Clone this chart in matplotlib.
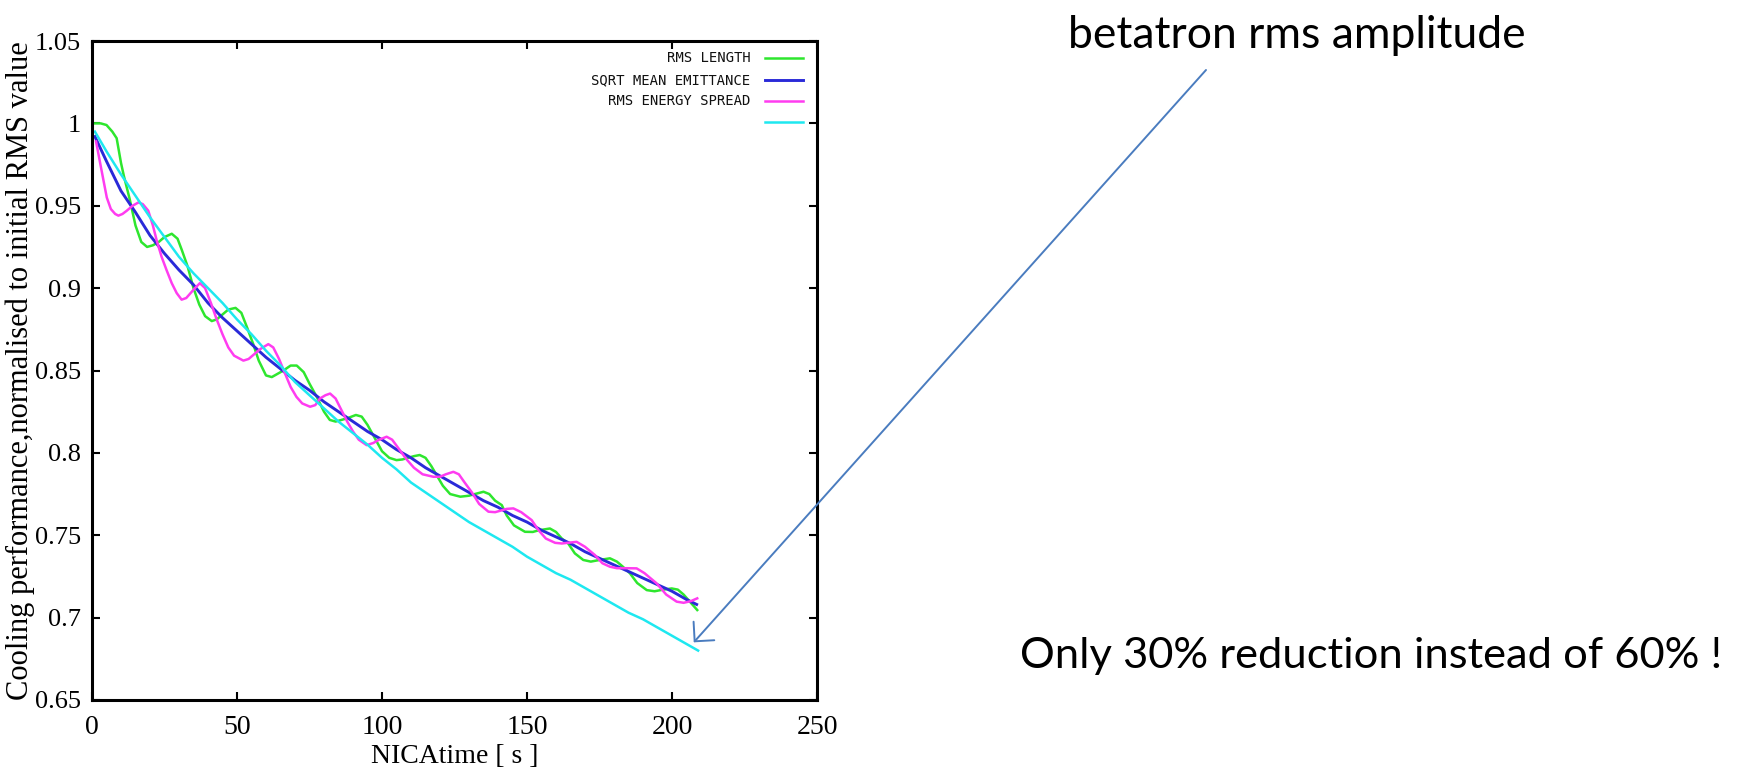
import matplotlib
matplotlib.use("Agg")
import matplotlib.pyplot as plt
from matplotlib.lines import Line2D

# ---- data -------------------------------------------------------------
rms_length_t = [1, 3, 5, 7, 8.5, 10, 11, 13, 15, 17, 19, 21, 23, 25, 27.5, 29.5,
                31, 33, 35, 37, 39, 41.3, 43, 45, 47, 49.5, 51.5, 53.5, 55.6, 57.5,
                60, 62, 64, 66, 68.5, 70.6, 73, 75, 77.5, 80, 82, 84, 86, 88, 91,
                93, 95, 97.5, 100, 102.5, 105, 107, 109, 111, 113, 115, 117, 119,
                121, 123.5, 127, 130, 132, 135, 137, 139, 141.3, 143, 145.5, 149.3,
                152, 154, 157.9, 160, 162, 164.2, 166.5, 169.4, 172, 175, 178.6,
                181, 183, 185.5, 188, 191.3, 194, 197, 199.9, 202, 204, 206, 208.7]
rms_length = [1.000, 1.000, 0.999, 0.995, 0.991, 0.976, 0.968, 0.954, 0.938, 0.928,
              0.925, 0.926, 0.928, 0.931, 0.933, 0.930, 0.923, 0.913, 0.900, 0.890,
              0.883, 0.880, 0.881, 0.884, 0.887, 0.888, 0.885, 0.876, 0.866, 0.856,
              0.847, 0.846, 0.848, 0.850, 0.853, 0.853, 0.849, 0.842, 0.834, 0.825,
              0.820, 0.819, 0.820, 0.821, 0.823, 0.822, 0.817, 0.809, 0.801, 0.797,
              0.7956, 0.796, 0.797, 0.798, 0.7987, 0.797, 0.792, 0.786, 0.780, 0.775,
              0.7734, 0.774, 0.775, 0.7764, 0.775, 0.771, 0.7683, 0.762, 0.756, 0.7521,
              0.752, 0.753, 0.7541, 0.752, 0.748, 0.745, 0.739, 0.735, 0.734, 0.735,
              0.736, 0.734, 0.731, 0.7269, 0.721, 0.7167, 0.716, 0.717, 0.7177, 0.717,
              0.714, 0.710, 0.7046]

emittance_t = [1, 5, 10, 15, 20, 25, 30, 35, 40, 45, 50, 55, 60, 65, 70, 75, 80,
               85, 90, 95, 100, 105, 110, 115, 120, 125, 130, 135, 140, 145, 150,
               155, 160, 165, 170, 175, 180, 185, 190, 195, 200, 205, 208.5]
emittance = [0.992, 0.977, 0.959, 0.946, 0.932, 0.921, 0.911, 0.902, 0.891, 0.882,
             0.874, 0.866, 0.858, 0.851, 0.844, 0.838, 0.831, 0.825, 0.819, 0.813,
             0.808, 0.802, 0.797, 0.791, 0.786, 0.781, 0.776, 0.771, 0.767, 0.762,
             0.758, 0.753, 0.749, 0.745, 0.740, 0.736, 0.732, 0.728, 0.724, 0.720,
             0.716, 0.711, 0.708]

energy_spread_t = [1.4, 2.8, 4, 5.1, 6.5, 8, 9.1, 10.5, 12, 14, 16, 17.5, 19.4, 21,
                   22.3, 24, 25.7, 27.5, 29.2, 30.9, 32.5, 34, 35.5, 37.2, 39, 41, 43,
                   45, 47, 49, 52.2, 54, 56, 58, 60.8, 62.5, 64.5, 66.6, 68.5, 70.5,
                   72.5, 75.2, 77, 78.6, 80.5, 82.1, 84, 86, 88, 90, 92, 94.7, 97, 99,
                   101.6, 103.5, 106, 108.5, 111, 114, 117.7, 120, 122, 124.6, 126.5,
                   128.5, 131, 133.5, 136.7, 139, 141, 143, 145.3, 148, 151.6, 154,
                   156.5, 159.7, 162, 164.5, 167.1, 170, 173.4, 176, 178.6, 181, 184,
                   187.8, 190.5, 194.7, 198, 201.6, 204, 206.5, 208.7]
energy_spread = [0.989, 0.976, 0.965, 0.955, 0.948, 0.945, 0.944, 0.945, 0.947, 0.950,
                 0.952, 0.951, 0.947, 0.938, 0.929, 0.919, 0.911, 0.903, 0.897, 0.893,
                 0.894, 0.897, 0.900, 0.903, 0.900, 0.891, 0.881, 0.872, 0.864, 0.859,
                 0.856, 0.857, 0.860, 0.863, 0.866, 0.864, 0.857, 0.848, 0.840, 0.834,
                 0.830, 0.828, 0.829, 0.833, 0.835, 0.836, 0.833, 0.826, 0.819, 0.813,
                 0.808, 0.8047, 0.806, 0.808, 0.8098, 0.808, 0.802, 0.796, 0.791, 0.787,
                 0.7855, 0.7855, 0.787, 0.7885, 0.787, 0.782, 0.776, 0.769, 0.7643, 0.764,
                 0.765, 0.766, 0.7663, 0.764, 0.7592, 0.753, 0.748, 0.7454, 0.745, 0.7455,
                 0.746, 0.743, 0.738, 0.733, 0.7309, 0.730, 0.730, 0.7299, 0.727, 0.7208,
                 0.714, 0.7097, 0.709, 0.710, 0.7117]

betatron_t = [1, 5, 10, 15, 20, 25, 30, 35, 40, 45, 50, 55, 60, 65, 70, 75, 80, 85,
              90, 95, 100, 105, 110, 115, 120, 125, 130, 135, 140, 145, 150, 155, 160,
              165, 170, 175, 180, 185, 190, 195, 200, 205, 209]
betatron = [0.995, 0.983, 0.969, 0.956, 0.943, 0.931, 0.919, 0.909, 0.900, 0.891,
            0.881, 0.872, 0.862, 0.853, 0.843, 0.835, 0.827, 0.819, 0.812, 0.805,
            0.797, 0.790, 0.782, 0.776, 0.770, 0.764, 0.758, 0.753, 0.748, 0.743,
            0.737, 0.732, 0.727, 0.723, 0.718, 0.713, 0.708, 0.703, 0.699, 0.694,
            0.689, 0.684, 0.680]

series_labels = ["RMS LENGTH", "SQRT MEAN EMITTANCE", "RMS ENERGY SPREAD", ""]
series_colors = ["#2ee62e", "#2a2ad8", "#ff3cf0", "#1ee8f0"]
series_widths = [1.8, 2.1, 1.8, 1.8]

x_ticks = [0, 50, 100, 150, 200, 250]
y_ticks = [0.65, 0.7, 0.75, 0.8, 0.85, 0.9, 0.95, 1.0, 1.05]
y_tick_labels = ["0.65", "0.7", "0.75", "0.8", "0.85", "0.9", "0.95", "1", "1.05"]

# ---- figure -----------------------------------------------------------
W, H = 1741, 769
fig = plt.figure(figsize=(W / 100, H / 100), dpi=100)
ax = fig.add_axes([92 / W, 1 - 700 / H, 725 / W, 659 / H])

serif = "Liberation Serif"
series = [(rms_length_t, rms_length), (emittance_t, emittance),
          (energy_spread_t, energy_spread), (betatron_t, betatron)]
for (t, v), c, w in zip(series, series_colors, series_widths):
    ax.plot(t, v, color=c, lw=w, solid_joinstyle="round")

ax.set_xlim(0, 250)
ax.set_ylim(0.65, 1.05)
ax.set_xticks(x_ticks)
ax.set_xticklabels([str(x) for x in x_ticks], family=serif, fontsize=20)
ax.set_yticks(y_ticks)
ax.set_yticklabels(y_tick_labels, family=serif, fontsize=19)
ax.tick_params(direction="in", length=6, width=1.5, top=True, right=True)
ax.tick_params(axis="y", pad=8)
ax.tick_params(axis="x", pad=11)
for s in ax.spines.values():
    s.set_linewidth(2.2)

ax.set_xlabel("NICAtime [ s ]", family=serif, fontsize=20, labelpad=3)
ax.set_ylabel("Cooling performance,normalised to initial RMS value",
              family=serif, fontsize=22)
ax.yaxis.set_label_coords((35 - 92) / 725, 0.5)

# key, gnuplot style: right-aligned labels followed by short line samples
row_y = [0.9737, 0.9408, 0.909, 0.8766]
for lab, c, yy, w in zip(series_labels, series_colors, row_y, series_widths):
    ax.text(0.908, yy, lab, transform=ax.transAxes, ha="right", va="center",
            family="DejaVu Sans Mono", fontsize=10, color="#111111")
    ax.add_line(Line2D([0.928, 0.981], [yy, yy], transform=ax.transAxes,
                       color=c, lw=w))

# annotations
ann_font = "Lato"
fig.text(1297 / W, 1 - 48 / H, "betatron rms amplitude", ha="center",
         va="baseline", family=ann_font, fontsize=32, color="black")
fig.text(1371 / W, 1 - 668 / H, "Only 30% reduction instead of 60% !", ha="center",
         va="baseline", family=ann_font, fontsize=31.3, color="black")

ax.annotate("", xy=(betatron_t[-1] - 1.5, betatron[-1] + 0.005), xycoords="data",
            xytext=(1206 / W, 1 - 70 / H), textcoords="figure fraction",
            annotation_clip=False,
            arrowprops=dict(arrowstyle="->,head_length=0.5,head_width=0.5",
                            mutation_scale=20, color="#4a7cbf", lw=1.4,
                            shrinkA=0, shrinkB=0))

fig.savefig("out.png", dpi=100, facecolor="white")
